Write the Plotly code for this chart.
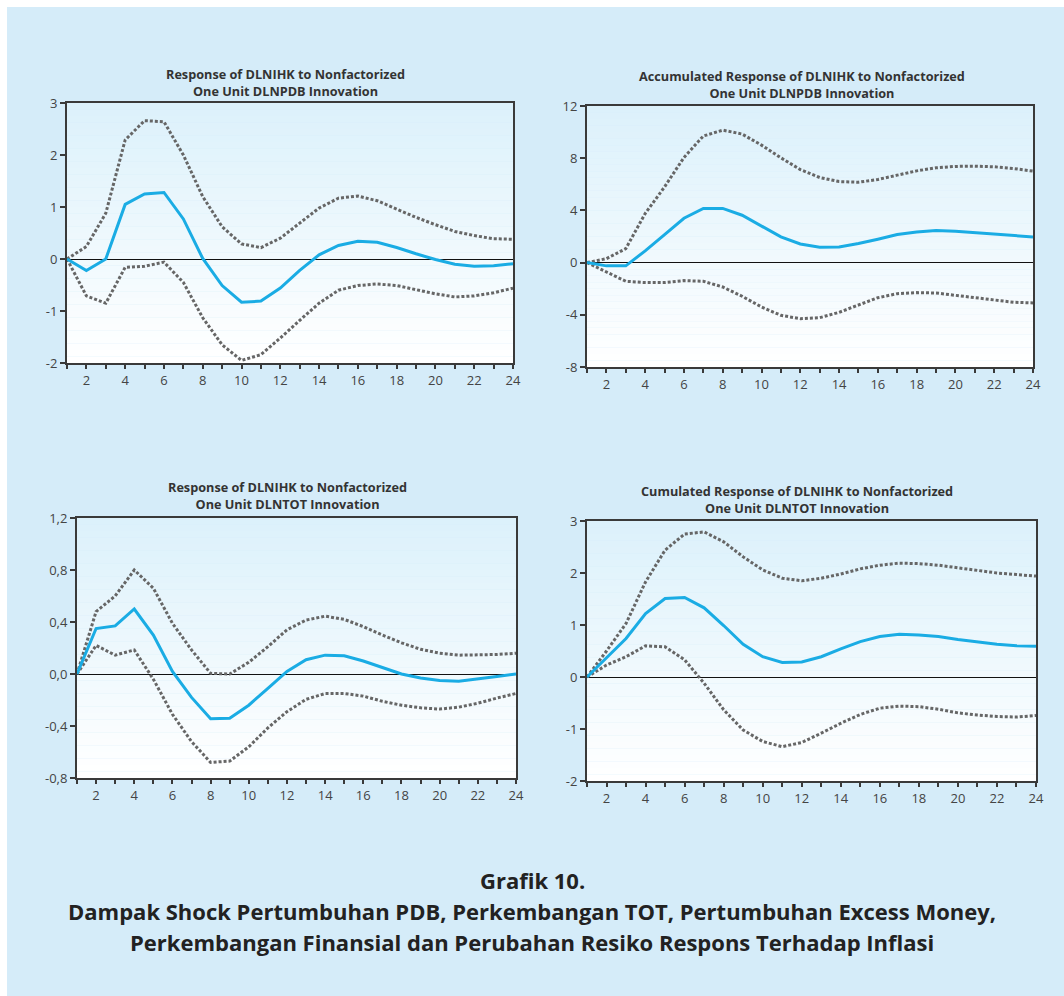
import plotly.graph_objects as go

periods = list(range(1, 25))

# Panel 1: Response of DLNIHK to DLNPDB
p1_resp = [0.0, -0.22, 0.0, 1.05, 1.25, 1.28, 0.77, 0.01, -0.51, -0.83, -0.81, -0.56,
           -0.22, 0.08, 0.26, 0.34, 0.32, 0.22, 0.10, -0.01, -0.10, -0.14, -0.13, -0.09]
p1_up = [0.0, 0.24, 0.88, 2.29, 2.66, 2.64, 2.0, 1.20, 0.62, 0.29, 0.22, 0.40,
         0.69, 0.98, 1.17, 1.21, 1.12, 0.96, 0.80, 0.66, 0.53, 0.45, 0.39, 0.38]
p1_lo = [0.0, -0.71, -0.85, -0.16, -0.14, -0.06, -0.45, -1.13, -1.65, -1.95, -1.84, -1.52,
         -1.18, -0.85, -0.60, -0.51, -0.48, -0.51, -0.59, -0.67, -0.73, -0.71, -0.65, -0.56]

# Panel 2: Accumulated response to DLNPDB
p2_resp = [0.0, -0.25, -0.25, 0.9, 2.15, 3.4, 4.15, 4.15, 3.63, 2.79, 1.97, 1.43,
           1.18, 1.20, 1.46, 1.79, 2.15, 2.35, 2.46, 2.40, 2.30, 2.17, 2.05, 1.97]
p2_up = [0.0, 0.3, 1.07, 3.76, 5.8, 8.06, 9.7, 10.15, 9.85, 9.0, 8.03, 7.13,
         6.52, 6.21, 6.16, 6.37, 6.70, 7.03, 7.26, 7.37, 7.39, 7.34, 7.21, 7.01]
p2_lo = [0.0, -0.72, -1.43, -1.53, -1.53, -1.38, -1.43, -1.87, -2.58, -3.40, -4.04, -4.30,
         -4.22, -3.81, -3.22, -2.69, -2.38, -2.30, -2.33, -2.51, -2.71, -2.89, -3.04, -3.09]

# Panel 3: Response of DLNIHK to DLNTOT
p3_resp = [0.0, 0.35, 0.37, 0.50, 0.30, 0.02, -0.18, -0.345, -0.34, -0.24, -0.11, 0.02,
           0.11, 0.145, 0.14, 0.10, 0.05, 0.0, -0.03, -0.05, -0.055, -0.04, -0.02, 0.0]
p3_up = [0.0, 0.48, 0.60, 0.80, 0.66, 0.39, 0.185, 0.005, 0.0, 0.09, 0.21, 0.34,
         0.415, 0.445, 0.42, 0.365, 0.30, 0.24, 0.19, 0.16, 0.145, 0.145, 0.15, 0.16]
p3_lo = [0.0, 0.22, 0.145, 0.185, -0.04, -0.31, -0.52, -0.68, -0.67, -0.56, -0.415, -0.29,
         -0.195, -0.15, -0.15, -0.17, -0.21, -0.24, -0.26, -0.27, -0.255, -0.225, -0.185, -0.15]

# Panel 4: Cumulated response to DLNTOT
p4_resp = [0.0, 0.37, 0.74, 1.22, 1.51, 1.53, 1.33, 0.99, 0.63, 0.39, 0.28, 0.29,
           0.39, 0.54, 0.68, 0.78, 0.82, 0.81, 0.78, 0.72, 0.67, 0.63, 0.60, 0.59]
p4_up = [0.0, 0.5, 1.03, 1.83, 2.44, 2.75, 2.79, 2.60, 2.31, 2.06, 1.90, 1.85,
         1.90, 1.98, 2.08, 2.15, 2.19, 2.18, 2.15, 2.10, 2.04, 2.0, 1.97, 1.94]
p4_lo = [0.0, 0.23, 0.39, 0.60, 0.58, 0.33, -0.12, -0.63, -1.02, -1.24, -1.34, -1.26,
         -1.08, -0.89, -0.72, -0.60, -0.56, -0.57, -0.62, -0.69, -0.73, -0.76, -0.77, -0.74]

titles = [
    "Response of DLNIHK to Nonfactorized<br>One Unit DLNPDB Innovation",
    "Accumulated Response of DLNIHK to Nonfactorized<br>One Unit DLNPDB Innovation",
    "Response of DLNIHK to Nonfactorized<br>One Unit DLNTOT Innovation",
    "Cumulated Response of DLNIHK to Nonfactorized<br>One Unit DLNTOT Innovation",
]

y_ticks = [
    [-2, -1, 0, 1, 2, 3],
    [-8, -4, 0, 4, 8, 12],
    [-0.8, -0.4, 0.0, 0.4, 0.8, 1.2],
    [-2, -1, 0, 1, 2, 3],
]
y_ticktext = [
    ["-2", "-1", "0", "1", "2", "3"],
    ["-8", "-4", "0", "4", "8", "12"],
    ["-0,8", "-0,4", "0,0", "0,4", "0,8", "1,2"],
    ["-2", "-1", "0", "1", "2", "3"],
]
x_ticks = list(range(2, 25, 2))
x_ticktext = [str(v) for v in x_ticks]

caption_1 = "Grafik 10."
caption_2 = "Dampak Shock Pertumbuhan PDB, Perkembangan TOT, Pertumbuhan Excess Money,"
caption_3 = "Perkembangan Finansial dan Perubahan Resiko Respons Terhadap Inflasi"

series = [(p1_resp, p1_up, p1_lo), (p2_resp, p2_up, p2_lo),
          (p3_resp, p3_up, p3_lo), (p4_resp, p4_up, p4_lo)]

W, H = 1064, 996
# pixel boxes: (left, right, top, bottom)
boxes = [(67, 513, 103, 363), (587, 1033, 106, 367),
         (77, 516, 518, 778), (587, 1036, 521, 781)]
title_pos = [(285, 82), (802, 84.5), (287, 495.5), (797, 499)]

BLUE = "#1AACE4"
GREY = "#666666"
AX = "#3a3a3a"

fig = go.Figure()
layout = dict(
    width=W, height=H, margin=dict(l=0, r=0, t=0, b=0, autoexpand=False), autosize=False,
    paper_bgcolor="white", plot_bgcolor="white", showlegend=False,
    font=dict(family="Open Sans", color="#333333"),
)
shapes = [dict(type="rect", xref="paper", yref="paper", x0=7 / W, x1=1, y0=0, y1=1 - 7 / H,
               fillcolor="#D5ECF9", line=dict(width=0), layer="below")]
annotations = []

for i, ((resp, up, lo), (l, r, t, b)) in enumerate(zip(series, boxes)):
    n = "" if i == 0 else str(i + 1)
    xa, ya = "x" + n, "y" + n
    for data, color, dash, width in [(up, GREY, "3px,2px", 3), (lo, GREY, "3px,2px", 3),
                                     (resp, BLUE, "solid", 3)]:
        fig.add_trace(go.Scatter(x=periods, y=data, mode="lines", xaxis=xa, yaxis=ya,
                                 line=dict(color=color, width=width, dash=dash),
                                 hoverinfo="skip"))
    yr = [y_ticks[i][0], y_ticks[i][-1]]
    layout["xaxis" + n] = dict(
        domain=[l / W, r / W], anchor=ya, range=[1, 24], tickvals=x_ticks, ticktext=x_ticktext,
        ticks="outside", ticklen=4, tickwidth=2, tickcolor=AX, automargin=False,
        minor=dict(dtick=1, tick0=1, ticks="outside", ticklen=4, tickwidth=1.5, tickcolor=AX),
        showline=True, linecolor=AX, linewidth=2, mirror=True, showgrid=False, zeroline=False,
        tickfont=dict(size=13, color="#444444"),
    )
    layout["yaxis" + n] = dict(
        domain=[1 - b / H, 1 - t / H], anchor=xa, range=yr, tickvals=y_ticks[i],
        ticktext=y_ticktext[i], ticks="outside", ticklen=5, tickwidth=1.5, tickcolor=AX,
        showline=True, linecolor=AX, linewidth=2, mirror=True, showgrid=False,
        zeroline=True, zerolinecolor="#111111", zerolinewidth=1, automargin=False,
        tickfont=dict(size=13, color="#444444"),
    )
    # gradient background in plot area
    nstrip = 40
    c0 = (0xDC, 0xF1, 0xFB)
    c1 = (0xFF, 0xFF, 0xFF)
    for k in range(nstrip):
        f = k / (nstrip - 1)
        c = tuple(round(c0[j] + (c1[j] - c0[j]) * f) for j in range(3))
        shapes.append(dict(type="rect", xref=xa + " domain", yref=ya + " domain",
                           x0=0, x1=1, y0=1 - (k + 1) / nstrip, y1=1 - k / nstrip,
                           fillcolor="rgb(%d,%d,%d)" % c, line=dict(width=0), layer="below"))
    tx, ty = title_pos[i]
    annotations.append(dict(text="<b>" + titles[i] + "</b>", xref="paper", yref="paper",
                            x=tx / W, y=1 - ty / H, xanchor="center", yanchor="middle",
                            showarrow=False, font=dict(size=12.7, color="#333333"),
                            align="center"))

for txt, yp in [(caption_1, 880), (caption_2, 911), (caption_3, 942)]:
    annotations.append(dict(text="<b>" + txt + "</b>", xref="paper", yref="paper",
                            x=532 / W, y=1 - yp / H, xanchor="center", yanchor="middle",
                            showarrow=False, font=dict(size=22, color="#222222")))

layout["shapes"] = shapes
layout["annotations"] = annotations
fig.update_layout(**layout)

post = (
    "document.documentElement.style.margin='0';"
    "document.body.style.margin='0';"
    "document.documentElement.style.overflow='hidden';"
    "document.body.style.overflow='hidden';"
)
fig.write_html("out.html", config={"displayModeBar": False}, post_script=post)
